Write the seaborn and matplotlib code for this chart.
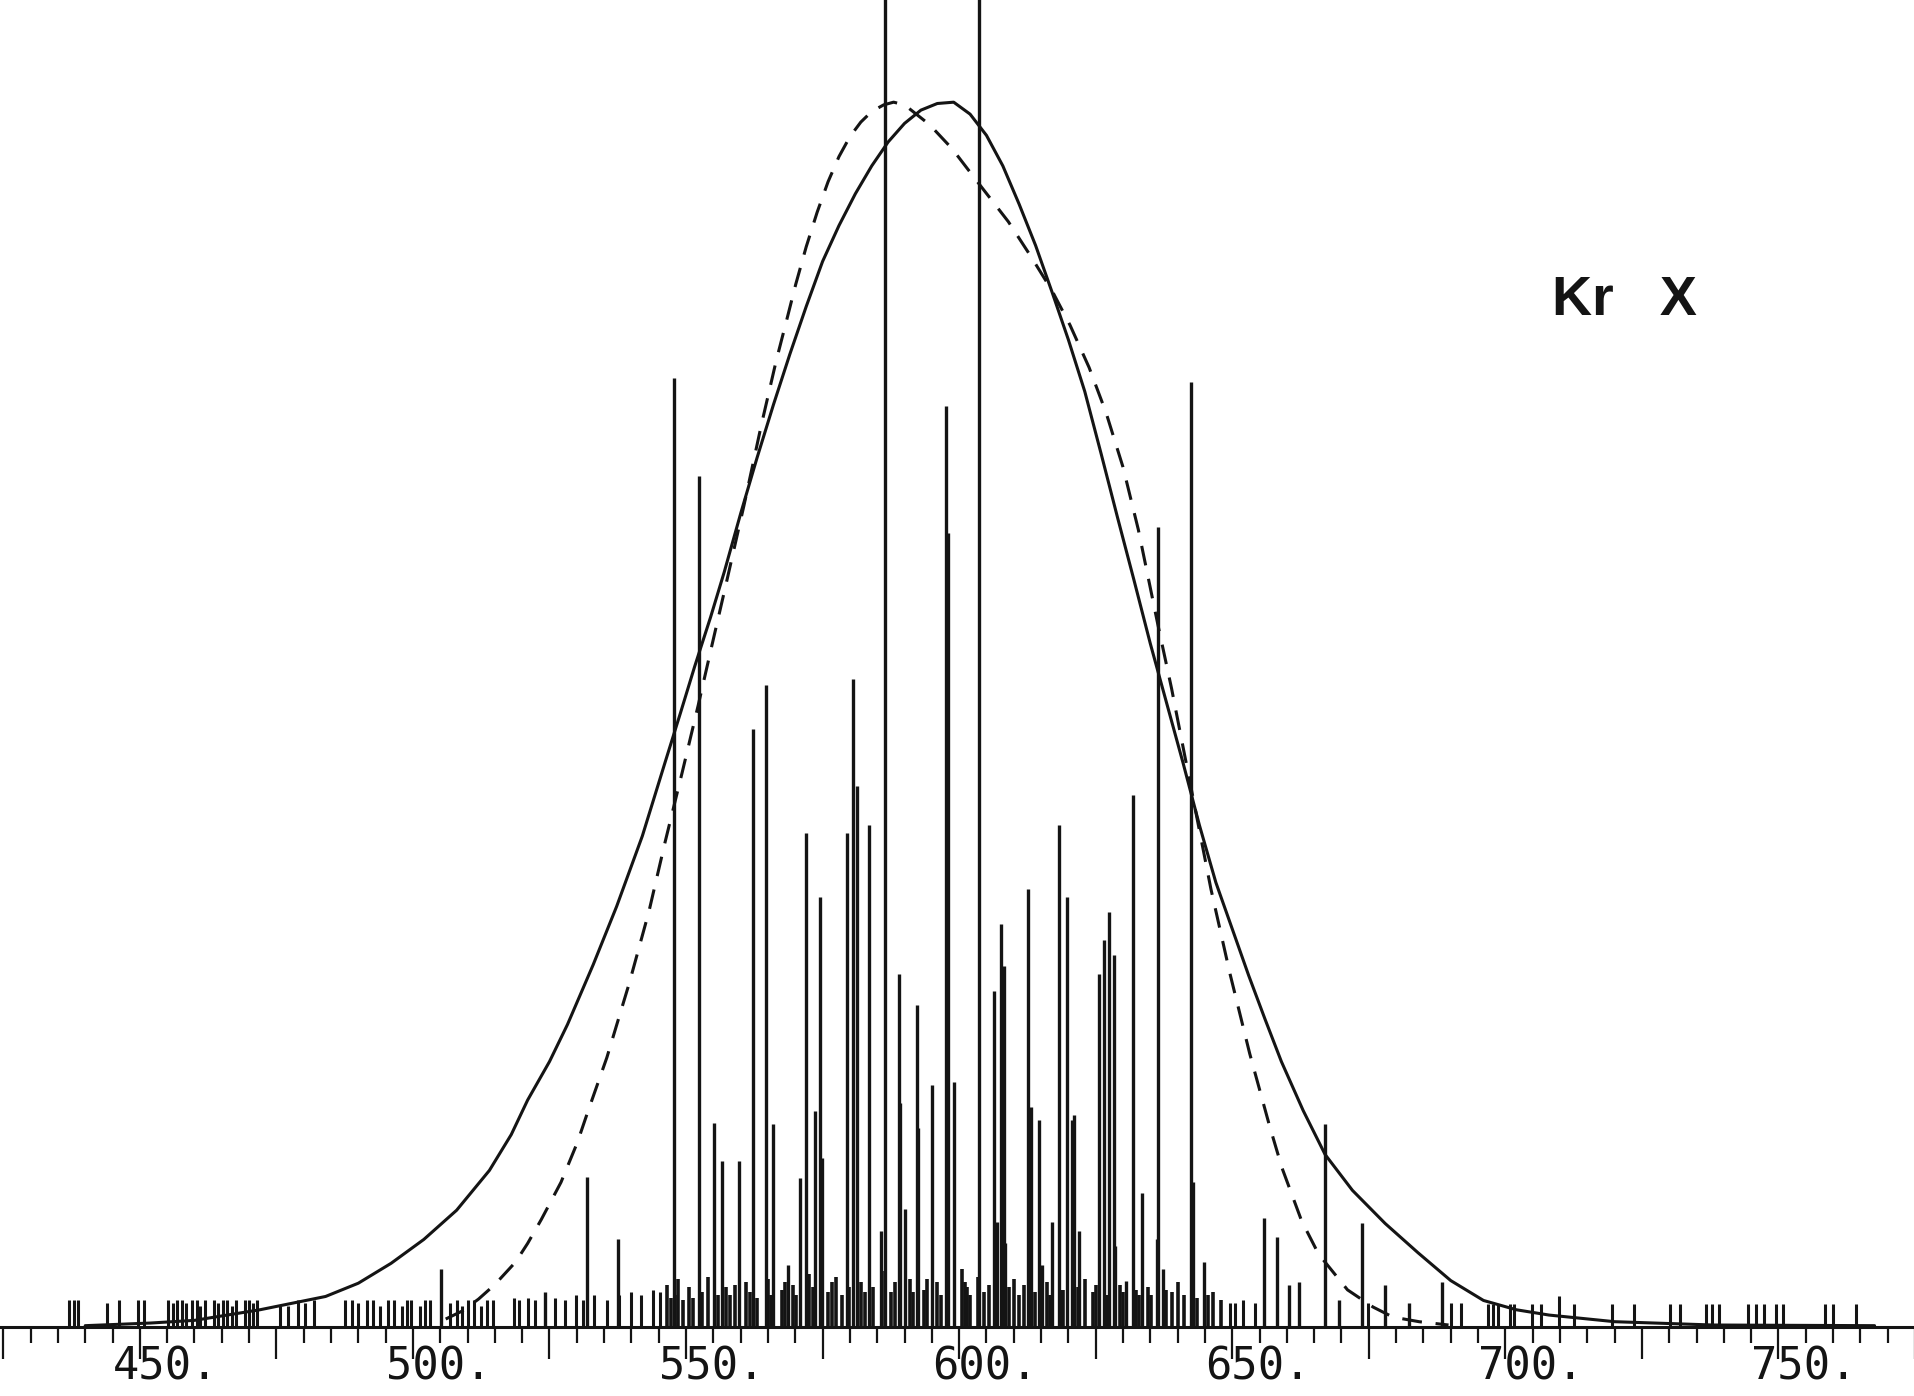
import numpy as np
import pandas as pd
import seaborn as sns
import matplotlib.pyplot as plt
from matplotlib import transforms

# x range of the plot and the labelled ticks
x_min, x_max = 424.4, 767.6
tick_values = [450, 500, 550, 600, 650, 700, 750]
ion_label = "Kr   X"

# strong lines: (position, relative intensity); 130 means the line runs off the top
strong_lines = [
    (505.2, 4.4), (524.2, 2.6), (531.9, 11.3), (537.6, 6.6), (547.8, 71.5),
    (552.3, 64.1), (555.2, 15.4), (556.6, 12.5), (559.7, 12.5), (562.3, 45.1),
    (564.6, 48.4), (566.0, 15.3), (568.6, 4.7), (570.8, 11.2), (571.9, 37.2),
    (573.7, 16.3), (574.6, 32.4), (574.9, 12.7), (579.4, 37.2), (580.6, 48.8),
    (581.3, 40.8), (583.5, 37.8), (586.4, 130), (585.7, 7.2), (588.9, 26.6),
    (589.2, 16.9), (590.0, 8.9), (592.3, 24.3), (592.5, 15.0), (595.0, 18.2),
    (597.6, 69.4), (598.0, 59.8), (599.1, 18.5), (603.6, 130), (606.3, 25.3),
    (607.0, 7.9), (607.7, 30.4), (608.3, 27.2), (608.4, 6.3), (612.6, 33.0),
    (613.1, 16.6), (614.7, 15.6), (615.2, 4.7), (617.0, 7.9), (618.3, 37.8),
    (619.7, 32.4), (620.6, 15.6), (621.1, 16.0), (622.0, 7.2), (625.6, 26.6),
    (626.5, 29.2), (627.4, 31.3), (628.3, 28.0), (628.5, 6.1), (630.5, 3.5),
    (631.9, 40.1), (633.5, 10.1), (636.4, 60.3), (636.2, 6.6), (637.3, 4.4),
    (642.5, 71.2), (642.9, 10.9), (644.8, 4.9), (655.9, 8.2), (658.2, 6.8),
    (660.4, 3.2), (662.2, 3.4), (667.0, 15.3), (669.5, 2.0), (673.8, 7.8),
    (678.0, 3.2), (682.4, 1.8), (688.4, 3.4),
]

# weak lines crowding the base line
weak_left = [
    (437.1, 2.0), (438.0, 2.0), (438.7, 2.0), (443.9, 1.8), (446.1, 2.0),
    (449.6, 2.0), (450.7, 2.0), (455.2, 2.0), (456.1, 1.8), (456.8, 2.0),
    (457.7, 2.0), (458.4, 1.8), (459.5, 2.0), (460.4, 2.0), (461.1, 1.6),
    (462.0, 2.0), (463.6, 2.0), (464.3, 1.8), (465.2, 2.0), (465.9, 2.0),
    (466.8, 1.6), (467.6, 2.0), (469.2, 2.0), (469.9, 2.0), (470.8, 1.8),
    (471.5, 2.0), (475.6, 1.6), (477.2, 1.6), (478.9, 2.0), (480.3, 1.8),
    (481.9, 2.0), (487.6, 2.0), (488.9, 2.0), (490.0, 1.8), (491.6, 2.0),
    (492.7, 2.0), (493.9, 1.6), (495.5, 2.0), (496.6, 2.0), (498.0, 1.6),
    (498.9, 2.0), (499.6, 2.0), (501.3, 1.6), (502.3, 2.0), (503.2, 2.0),
    (506.8, 1.8), (508.1, 2.0), (509.0, 1.6), (510.0, 2.0), (511.1, 2.0),
    (512.4, 1.6), (513.6, 2.0), (514.7, 2.0), (518.5, 2.2), (519.5, 2.0),
    (521.1, 2.2), (522.4, 2.0), (526.0, 2.2), (527.8, 2.0), (529.9, 2.4),
    (531.2, 2.0), (533.2, 2.4), (535.5, 2.0), (537.8, 2.4), (540.0, 2.6),
    (541.8, 2.4), (543.9, 2.8), (545.3, 2.6),
]
weak_mid = [
    (546.5, 3.2), (547.2, 2.2), (547.9, 2.4), (548.5, 3.6), (549.5, 2.0),
    (550.5, 3.0), (551.2, 2.2), (553.0, 2.6), (554.0, 3.8), (555.9, 2.4),
    (557.3, 3.0), (558.0, 2.4), (558.9, 3.2), (561.0, 3.4), (561.8, 2.6),
    (563.0, 2.2), (565.0, 3.6), (565.6, 2.4), (567.5, 2.8), (568.2, 3.4),
    (569.5, 3.2), (570.2, 2.4), (572.5, 4.0), (573.2, 3.0), (576.0, 2.6),
    (576.8, 3.4), (577.5, 3.8), (578.5, 2.4), (579.9, 3.0), (582.0, 3.4),
    (582.8, 2.6), (584.3, 3.0), (586.5, 4.2), (587.5, 2.6), (588.3, 3.4),
    (591.0, 3.6), (591.6, 2.6), (593.5, 2.8), (594.2, 3.6), (596.0, 3.4),
    (596.6, 2.4), (600.5, 4.4), (601.0, 3.4), (601.5, 3.0), (602.0, 2.4),
    (603.5, 3.8), (604.5, 2.6), (605.5, 3.2), (606.8, 2.8), (609.2, 3.0),
    (610.0, 3.6), (611.0, 2.4), (611.8, 3.2), (613.8, 2.6), (616.0, 3.4),
    (616.6, 2.4), (618.8, 2.8), (619.0, 2.8), (621.7, 3.0), (623.0, 3.6),
    (624.5, 2.6), (625.1, 3.2), (627.0, 2.4), (629.5, 3.2), (630.0, 2.6),
    (632.4, 2.8), (633.0, 2.4), (634.5, 3.0), (635.2, 2.4), (637.8, 2.8),
    (639.0, 2.6), (640.0, 3.4), (641.1, 2.4), (643.5, 2.2), (645.6, 2.4),
    (646.5, 2.6), (648.0, 2.0),
]
weak_right = [
    (649.6, 1.8), (650.5, 1.8), (652.0, 2.0), (654.1, 1.8), (674.9, 1.8),
    (690.1, 1.8), (691.9, 1.8), (696.8, 1.7), (697.7, 1.7), (698.6, 1.7),
    (700.9, 1.7), (701.6, 1.7), (704.8, 1.7), (706.6, 1.7), (709.9, 2.3),
    (712.5, 1.7), (719.5, 1.7), (723.5, 1.7), (730.1, 1.7), (731.9, 1.7),
    (736.7, 1.7), (737.8, 1.7), (739.2, 1.7), (744.4, 1.7), (745.9, 1.7),
    (747.3, 1.7), (749.5, 1.7), (750.9, 1.7), (758.6, 1.7), (760.0, 1.7),
    (764.2, 1.7),
]

# envelope curves
solid_x = [440, 452, 460, 466, 472, 478, 484, 490, 496, 502,
           508, 514, 518, 521, 525, 528.3, 533, 537.3, 542, 546.2,
           549, 551.6, 554.5, 557, 560, 563, 566, 569, 572, 575,
           578, 581, 584, 587, 590, 593, 596, 599, 602, 605,
           608, 611, 614, 617, 620, 623, 626, 629, 632, 635,
           638, 641, 644, 647, 650, 653, 656, 659, 663, 667,
           672, 678, 684, 690, 696, 702, 708, 720, 738, 767.6]
solid_y = [0.1, 0.3, 0.5, 0.9, 1.3, 1.8, 2.3, 3.3, 4.8, 6.6,
           8.8, 11.8, 14.5, 17.1, 20.0, 22.8, 27.3, 31.7, 37.0, 42.6,
           46.3, 49.8, 53.5, 56.9, 61.3, 65.5, 69.5, 73.3, 76.9, 80.3,
           83.0, 85.4, 87.5, 89.3, 90.7, 91.7, 92.2, 92.3, 91.4, 89.8,
           87.5, 84.6, 81.5, 78.0, 74.4, 70.5, 65.8, 61.0, 56.3, 51.5,
           47.0, 42.5, 37.8, 33.5, 30.0, 26.5, 23.2, 20.0, 16.3, 13.0,
           10.3, 7.8, 5.6, 3.5, 2.0, 1.3, 0.9, 0.4, 0.15, 0.1]
dashed_x = [506, 509, 512, 515, 518.8, 521, 523.5, 527.1, 530.1, 532,
            535.5, 539.6, 543.2, 546.2, 549.3, 552.2, 554.7, 557, 560.6, 563.8,
            566.5, 568.5, 570.1, 572, 574, 576, 578, 580, 582, 584,
            586.2, 588, 590, 594.6, 598.7, 604.1, 609, 613.1, 617, 620.3,
            623.8, 626.9, 630, 632.8, 636.4, 638.9, 643, 646.1, 649.6, 653.2,
            656.8, 659.1, 662.7, 665.8, 671.1, 675.8, 679.4, 684.2, 689.6]
dashed_y = [0.6, 1.2, 2.1, 3.2, 4.9, 6.3, 8.1, 10.9, 13.9, 16.2,
            20.3, 25.9, 31.3, 36.6, 41.8, 46.8, 51.3, 55.4, 61.9, 68.0,
            72.8, 76.0, 78.6, 81.4, 84.0, 86.3, 88.2, 89.7, 90.8, 91.6,
            92.1, 92.3, 92.1, 90.6, 88.8, 85.9, 83.3, 80.7, 78.1, 75.5,
            72.3, 68.9, 64.8, 60.1, 52.9, 48.1, 39.5, 33.0, 26.6, 20.6,
            15.2, 12.0, 8.0, 5.5, 2.8, 1.5, 0.75, 0.4, 0.15]

ink = "#141414"

sns.set_theme(style="white")
plt.rcParams["font.family"] = ["DejaVu Sans"]

fig = plt.figure(figsize=(19.15, 13.96), dpi=100)
fig.patch.set_facecolor("white")
ax = fig.add_axes([0, 69 / 1396, 1, 1327 / 1396])
ax.set_facecolor("white")

# line spectrum
for group, lw in [(weak_left, 2.2), (weak_mid, 2.6), (weak_right, 2.2), (strong_lines, 2.4)]:
    pos, inten = zip(*group)
    ax.vlines(pos, 0, inten, color=ink, lw=lw)

# envelopes
sns.lineplot(x=solid_x, y=solid_y, ax=ax, color=ink, lw=2.2)
sns.lineplot(x=dashed_x, y=dashed_y, ax=ax, color=ink, lw=2.2,
             linestyle=(0, (6.5, 4.5)))

ax.set_xlim(x_min, x_max)
ax.set_ylim(0, 100)
ax.set_yticks([])
ax.set_xlabel("")
ax.set_ylabel("")
for side in ["top", "left", "right"]:
    ax.spines[side].set_visible(False)
ax.spines["bottom"].set_color(ink)
ax.spines["bottom"].set_linewidth(2.2)

ax.set_xticks(np.arange(425, 776, 25))
ax.set_xticks(np.arange(425, 771, 5), minor=True)
ax.tick_params(axis="x", which="major", bottom=True, direction="out",
               length=23, width=1.6, color=ink, labelbottom=False)
ax.tick_params(axis="x", which="minor", bottom=True, direction="out",
               length=11.5, width=1.6, color=ink)

# plotter style labels: first digit sits left of its tick
lab_tr = transforms.offset_copy(ax.get_xaxis_transform(), fig=fig,
                                x=-27, y=-53, units="dots")
for v in tick_values:
    ax.text(v, 0, f"{v}.", transform=lab_tr, ha="left", va="baseline",
            family="DejaVu Sans Mono", fontsize=31.5, color=ink)

fig.text(1552 / 1915, 1 - 315 / 1396, ion_label, ha="left", va="baseline",
         family=["Liberation Sans", "DejaVu Sans"], fontweight="bold",
         fontsize=40, color=ink)

fig.savefig("out.png", dpi=100)
